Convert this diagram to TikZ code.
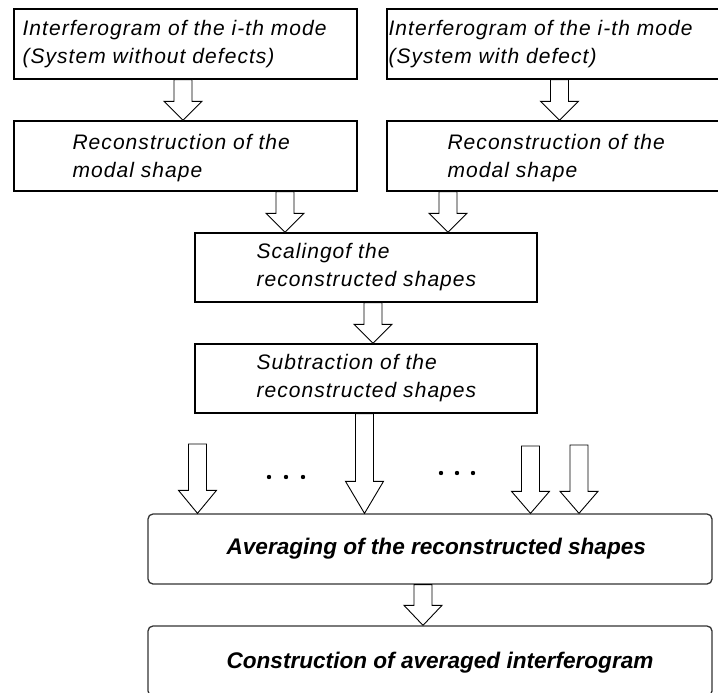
\documentclass[tikz,border=0pt]{standalone}
\usepackage{fontspec}
\setmainfont{Liberation Sans}
\newfontfamily\boxfont{Liberation Sans}[LetterSpace=5]
\usetikzlibrary{calc}
\usetikzlibrary{positioning}

% hollow block arrow from #2 (top of shaft) down to #3 (tip), head length #1
\newcommand{\blockarrow}[3][20]{%
  \draw[blockline] let \p1=(#2), \p2=(#3) in
    (\x1-9pt,\y1) -- (\x1+9pt,\y1) -- (\x1+9pt,\y2+#1pt) -- (\x1+19pt,\y2+#1pt)
    -- (\x1,\y2) -- (\x1-19pt,\y2+#1pt) -- (\x1-9pt,\y2+#1pt) -- cycle;}

\begin{document}
\begin{tikzpicture}[x=1pt, y=-1pt,
  box/.style={draw, line width=1.3pt, minimum height=70pt, inner sep=0pt},
  roundbox/.style={box, draw=black!80, rounded corners=5pt, minimum width=564pt},
  boxtext/.style={anchor=west, align=left, inner sep=0pt,
    font=\boxfont\itshape\fontsize{21}{28}\selectfont},
  bigtext/.style={anchor=west, inner sep=0pt,
    font=\bfseries\itshape\fontsize{22.6}{28}\selectfont},
  blockline/.style={draw, line width=0.9pt, fill=white, line join=miter}]
\useasboundingbox (0,0) rectangle (718,693);

% the two chains on top
\node[box, minimum width=343pt] (recA) at (185.5,44) {};
\node[boxtext] (txtA) at ([xshift=9pt]recA.west) {Interferogram of the i-th mode\\(System without defects)};
\node[box, minimum width=348pt] (recD) at (561,44) {};
\node[boxtext] (txtD) at ([xshift=2pt]recD.west) {Interferogram of the i-th mode\\(System with defect)};

\node[box, minimum width=343pt] (recB) at (185.5,156) {};
\node[boxtext] (txtB) at ([xshift=59pt,yshift=-2pt]recB.west) {Reconstruction of the\\modal shape};
\node[box, minimum width=348pt] (recE) at (561,156) {};
\node[boxtext] (txtE) at ([xshift=61pt,yshift=-2pt]recE.west) {Reconstruction of the\\modal shape};

% middle column
\node[box, minimum width=342pt, minimum height=69pt] (recC) at (366,267.5) {};
\node[boxtext] (txtC) at ([xshift=62pt]recC.west) {Scalingof the\\reconstructed shapes};
\node[box, minimum width=342pt, minimum height=69pt] (recF) at (366,378.5) {};
\node[boxtext] (txtF) at ([xshift=62pt]recF.west) {Subtraction of the\\reconstructed shapes};

% bottom boxes
\node[roundbox] (recG) at (430,549) {};
\node[bigtext] (txtG) at ([xshift=79pt]recG.west) {Averaging of the reconstructed shapes};
\node[roundbox] (recH) at (430,661) {};
\node[bigtext] (txtH) at ([xshift=79pt,yshift=-2pt]recH.west) {Construction of averaged interferogram};

% arrows
\blockarrow[19]{[xshift=-2.5pt]recA.south}{[xshift=-2.5pt]recB.north}
\blockarrow[19]{[xshift=-1.5pt]recD.south}{[xshift=-1.5pt]recE.north}
\blockarrow[19]{recB.south -| 285,0}{recC.north -| 285,0}
\blockarrow[19]{recE.south -| 448,0}{recC.north -| 448,0}
\blockarrow[19]{[xshift=7pt]recC.south}{[xshift=7pt]recF.north}
\blockarrow[32]{[xshift=-1.5pt]recF.south}{[xshift=-1.5pt]recF.south |- recG.north}
\coordinate (inL) at (197.5,444);
\coordinate (inR) at (530.5,446);
\coordinate (inRR) at (579,445);
\blockarrow[23]{inL}{inL |- recG.north}
\blockarrow[22]{inR}{inR |- recG.north}
\blockarrow[22]{inRR}{inRR |- recG.north}
\blockarrow[20]{[xshift=-7pt]recG.south}{[xshift=-7pt]recH.north}

% dots between the arrows
\fill (269,477) circle (2.2) (286,477) circle (2.2) (303,477) circle (2.2);
\fill (441,473) circle (2.2) (457,473) circle (2.2) (473,473) circle (2.2);
\end{tikzpicture}
\end{document}
